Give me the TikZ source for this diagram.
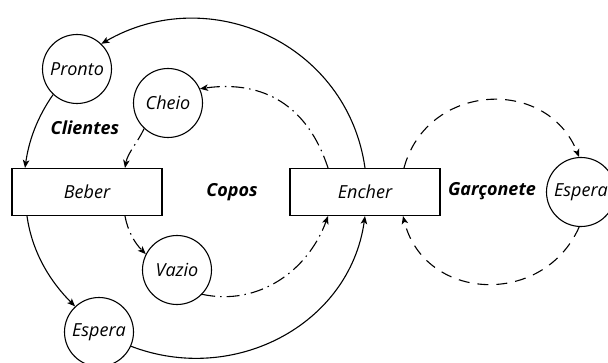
\documentclass[tikz,border=0pt]{standalone}
\usepackage{fontspec}
\setmainfont{Open Sans}
\usetikzlibrary{arrows.meta}
\begin{document}
\begin{tikzpicture}[x=1pt,y=1pt,
  every node/.style={font=\fontsize{18}{21}\selectfont\itshape},
  state/.style={draw, circle, line width=1.1pt, minimum size=69pt, inner sep=0pt},
  activity/.style={draw, rectangle, line width=1.1pt, minimum width=150pt, minimum height=47pt, inner sep=0pt},
  group/.style={font=\fontsize{18}{21}\selectfont\bfseries\itshape},
  link/.style={line width=1.1pt, -{Stealth[length=8pt,width=6.5pt,inset=2pt]}},
  glassline/.style={link, dash pattern=on 13pt off 5pt on 1.5pt off 5pt},
  waiterline/.style={link, dash pattern=on 11pt off 8pt},
]
\useasboundingbox (0,0) rectangle (608,362);

% places and transitions
\node[state] (pronto) at (77,293) {Pronto};
\node[state] (cheio) at (168,259) {Cheio};
\node[state] (vazio) at (177,92) {Vazio};
\node[state] (esperaC) at (99,30) {Espera};
\node[state] (esperaG) at (581,170) {Espera};
\node[activity] (beber) at (87,170) {Beber};
\node[activity] (encher) at (365,170) {Encher};

% group labels
\node[group] (clientes) at (85,234) {Clientes};
\node[group] (copos) at (232,170) {Copos};
\node[group] (garconete) at (492,171) {Garçonete};

% customers cycle
\draw[link] (encher.north) to[out=98,in=30,looseness=1.1] (pronto.46);
\draw[link] (pronto.227) to[out=235,in=82,looseness=0.9] ([xshift=-62pt]beber.north);
\draw[link] ([xshift=-60pt]beber.south) to[out=278,in=135,looseness=0.9] (esperaC.133);
\draw[link] (esperaC.336) to[out=-21,in=262,looseness=1.05] (encher.south);

% glasses cycle
\draw[glassline] ([xshift=-37pt]encher.north) to[out=108,in=8,looseness=1.1] (cheio.24);
\draw[glassline] (cheio.227) to[out=245,in=80,looseness=0.9] ([xshift=38pt]beber.north);
\draw[glassline] ([xshift=38pt]beber.south) to[out=-80,in=135,looseness=0.9] (vazio.153);
\draw[glassline] (vazio.-44) to[out=-12,in=250,looseness=1] ([xshift=-37pt]encher.south);

% waitress cycle
\draw[waiterline] ([xshift=39pt]encher.north) to[out=75,in=112,looseness=1.28] (esperaG.93);
\draw[waiterline] (esperaG.267) to[out=246,in=284,looseness=1.28] ([xshift=38pt]encher.south);
\end{tikzpicture}
\end{document}
